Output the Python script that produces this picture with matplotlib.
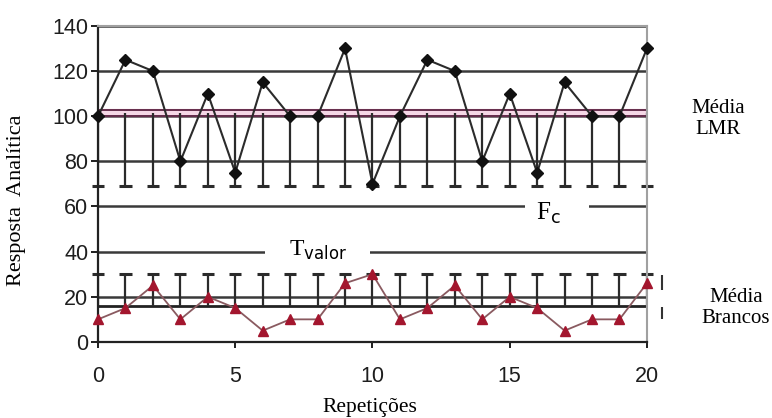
import matplotlib.pyplot as plt
import numpy as np

# data
repeticoes = list(range(21))
lmr = [100, 125, 120, 80, 110, 75, 115, 100, 100, 130, 70,
       100, 125, 120, 80, 110, 75, 115, 100, 100, 130]
brancos = [10, 15, 25, 10, 20, 15, 5, 10, 10, 26, 30,
           10, 15, 25, 10, 20, 15, 5, 10, 10, 26]
media_lmr = 101.5
media_brancos = 16
lmr_lower = 69      # lower limit of the LMR bars
brancos_upper = 30  # upper limit of the blank bars
grid_y = [0, 20, 40, 60, 80, 100, 120, 140]
x_ticks = [0, 5, 10, 15, 20]

LINE = "#2b2b2b"
RED = "#a3162e"
SERIF = "Liberation Serif"

fig = plt.figure(figsize=(7.72, 4.18), dpi=100)
ax = fig.add_axes([0.127, 0.182, 0.711, 0.756])

# horizontal grid
for g in grid_y:
    ax.axhline(g, color="#3a3a3a", lw=1.8, zorder=1)

# mean of LMR (double line with pink band)
ax.axhspan(100, 103, color="#f2c6dc", alpha=0.7, zorder=1)
ax.axhline(100.3, color="#5a2040", lw=1.3, zorder=2)
ax.axhline(102.8, color="#5a2040", lw=1.3, zorder=2)
# mean of blanks
ax.axhline(media_brancos, color="#222222", lw=2.0, zorder=2)

# error-bar style limits
x = np.array(repeticoes)
n = len(x)
ax.vlines(x, lmr_lower, media_lmr, color=LINE, lw=1.6, zorder=2)
ax.hlines(np.full(n, lmr_lower), x - 0.22, x + 0.22, color=LINE, lw=2.2,
          zorder=2, clip_on=False)
ax.vlines(x, media_brancos, brancos_upper, color=LINE, lw=1.6, zorder=2)
ax.hlines(np.full(n, brancos_upper), x - 0.22, x + 0.22, color=LINE, lw=2.2,
          zorder=2, clip_on=False)

# small bracket marks just outside the right edge
ax.vlines([20.55, 20.55], [23, 10], [29.5, 15.5], color="#333333", lw=1.5,
          clip_on=False)

# series
ax.plot(x, lmr, color=LINE, lw=1.5, marker="D", ms=6, mfc="#111111",
        mec="#111111", zorder=4, clip_on=False)
ax.plot(x, brancos, color="#8a5a60", lw=1.3, marker="^", ms=7, mfc=RED,
        mec=RED, zorder=4, clip_on=False)

# labels sitting in gaps of the 60 and 40 lines
ax.fill_between([15.55, 17.9], 56, 64, color="white", lw=0, zorder=3)
ax.text(16.4, 57, r"F$_{\mathsf{c}}$", fontsize=18, family=SERIF,
        ha="center", va="center", zorder=5)
ax.fill_between([6.1, 9.9], 35, 45, color="white", lw=0, zorder=3)
ax.text(8.0, 40.5, r"T$_{\mathsf{valor}}$", fontsize=17, family=SERIF,
        ha="center", va="center", zorder=5)

fig.text(0.930, 0.715, "Média\nLMR", fontsize=15, family=SERIF,
         ha="center", va="center", linespacing=1.1)
fig.text(0.953, 0.263, "Média\nBrancos", fontsize=15, family=SERIF,
         ha="center", va="center", linespacing=1.1)

ax.set_xlim(0, 20)
ax.set_ylim(0, 140)
ax.set_xticks(x_ticks)
ax.set_yticks(grid_y)
ax.tick_params(axis="both", labelsize=15.5, colors="#1e1e1e", width=1.4)
ax.tick_params(axis="y", direction="out", length=5, pad=2)
ax.tick_params(axis="x", direction="out", length=4, pad=13)
for lab in ax.get_xticklabels() + ax.get_yticklabels():
    lab.set_family("Liberation Sans")

for s in ["left", "bottom"]:
    ax.spines[s].set_color("#222222")
    ax.spines[s].set_linewidth(1.6)
for s in ["top", "right"]:
    ax.spines[s].set_color("#a0a0a0")
    ax.spines[s].set_linewidth(1.5)

fig.text(0.021, 0.52, "Resposta  Analítica", fontsize=16, family=SERIF,
         rotation=90, ha="center", va="center")
fig.text(0.479, 0.024, "Repetições", fontsize=15.5, family=SERIF,
         ha="center", va="center")

fig.savefig("out.png", dpi=100)
